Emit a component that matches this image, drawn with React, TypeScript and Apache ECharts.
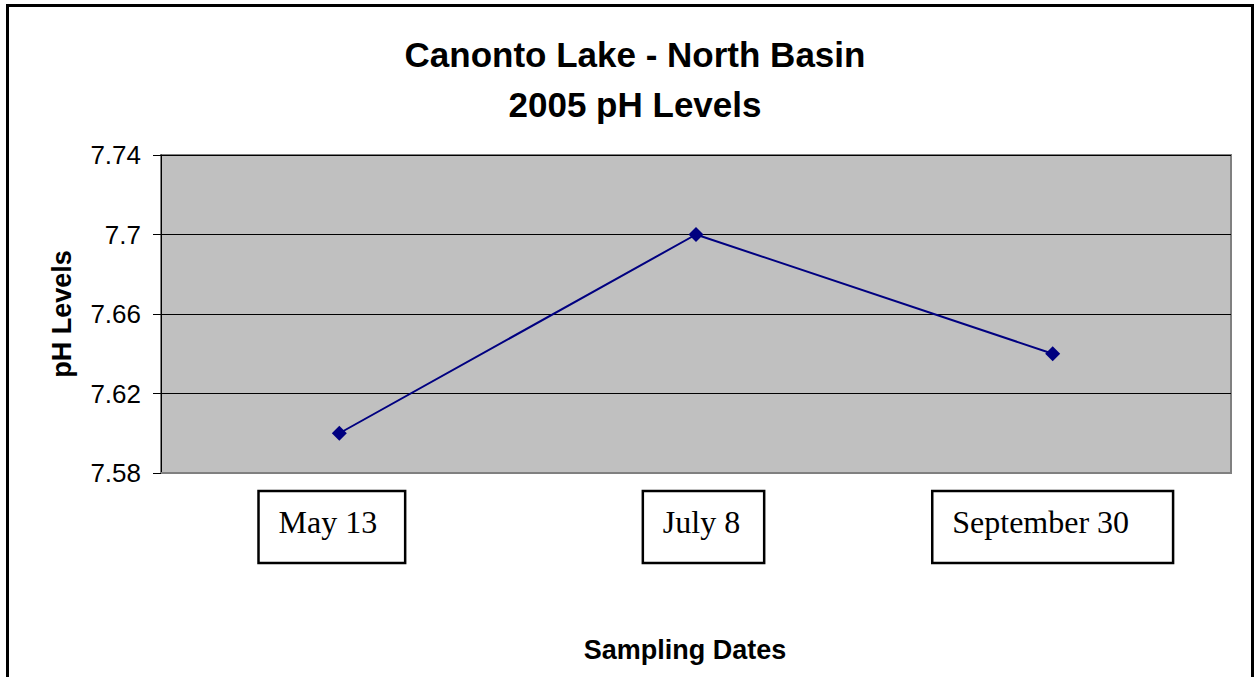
import React, { useEffect, useRef } from "react";
import * as echarts from "echarts";

const categories = ["May 13", "July 8", "September 30"];
const phValues = [7.6, 7.7, 7.64];
const yTicks = { min: 7.58, max: 7.74, interval: 0.04 };
const titleLines = ["Canonto Lake - North Basin", "2005 pH Levels"];

export default function App() {
  const ref = useRef<HTMLDivElement>(null);
  useEffect(() => {
    if (!ref.current) return;
    const chart = echarts.init(ref.current, null, { renderer: "svg" });
    const boxStyle = (right: number) => ({
      fontFamily: "Liberation Serif",
      fontSize: 32,
      lineHeight: 36,
      color: "#000",
      borderColor: "#000",
      borderWidth: 2.5,
      padding: [15, right, 25, 20],
    });
    chart.setOption({
      animation: false,
      backgroundColor: "#fff",
      title: {
        text: titleLines.join("\n"),
        left: 630,
        textAlign: "center",
        top: 24,
        textStyle: {
          fontFamily: "Liberation Sans",
          fontWeight: "bold",
          fontSize: 35,
          lineHeight: 50,
          color: "#000",
        },
      },
      graphic: [
        {
          type: "rect",
          shape: { x: 7.5, y: 5.5, width: 1245, height: 690 },
          style: { fill: "none", stroke: "#000", lineWidth: 3 },
          silent: true,
        },
      ],
      grid: {
        left: 161,
        right: 25,
        top: 155,
        bottom: 204,
        show: true,
        backgroundColor: "#C0C0C0",
        borderColor: "#808080",
        borderWidth: 2,
      },
      xAxis: {
        type: "category",
        data: categories,
        boundaryGap: true,
        axisTick: { show: false },
        axisLine: { lineStyle: { color: "#808080", width: 2 } },
        name: "Sampling Dates",
        nameLocation: "middle",
        nameGap: 163,
        nameTextStyle: {
          fontFamily: "Liberation Sans",
          fontWeight: "bold",
          fontSize: 27,
          color: "#000",
          padding: [0, 22, 0, 0],
        },
        axisLabel: {
          margin: 36,
          interval: 0,
          formatter: (v: string) => {
            const i = categories.indexOf(v);
            if (i === 0) return `{b0|${v}}{sp|}`;
            if (i === 1) return `{sp|}{b1|${v}}`;
            return `{b2|${v}}`;
          },
          rich: {
            b0: boxStyle(28),
            b1: boxStyle(24),
            b2: boxStyle(44),
            sp: { width: 15, height: 10 },
          },
        },
      },
      yAxis: {
        type: "value",
        min: yTicks.min,
        max: yTicks.max,
        interval: yTicks.interval,
        name: "pH Levels",
        nameLocation: "middle",
        nameRotate: 90,
        nameGap: 86,
        nameTextStyle: {
          fontFamily: "Liberation Sans",
          fontWeight: "bold",
          fontSize: 27,
          color: "#000",
        },
        axisLine: { show: true, lineStyle: { color: "#000", width: 1 } },
        axisTick: { show: true, length: 8, lineStyle: { color: "#000" } },
        axisLabel: {
          margin: 20,
          fontFamily: "Liberation Sans",
          fontSize: 26,
          color: "#000",
          formatter: (v: number) => String(parseFloat(v.toFixed(2))),
        },
        splitLine: { lineStyle: { color: "#000", width: 1 } },
      },
      series: [
        {
          type: "line",
          data: phValues,
          symbol: "diamond",
          symbolSize: 15,
          lineStyle: { color: "#000080", width: 2 },
          itemStyle: { color: "#000080" },
        },
      ],
    });
    return () => chart.dispose();
  }, []);
  return (
    <div
      ref={ref}
      style={{ position: "absolute", left: 0, top: 0, width: 1256, height: 677 }}
    />
  );
}
